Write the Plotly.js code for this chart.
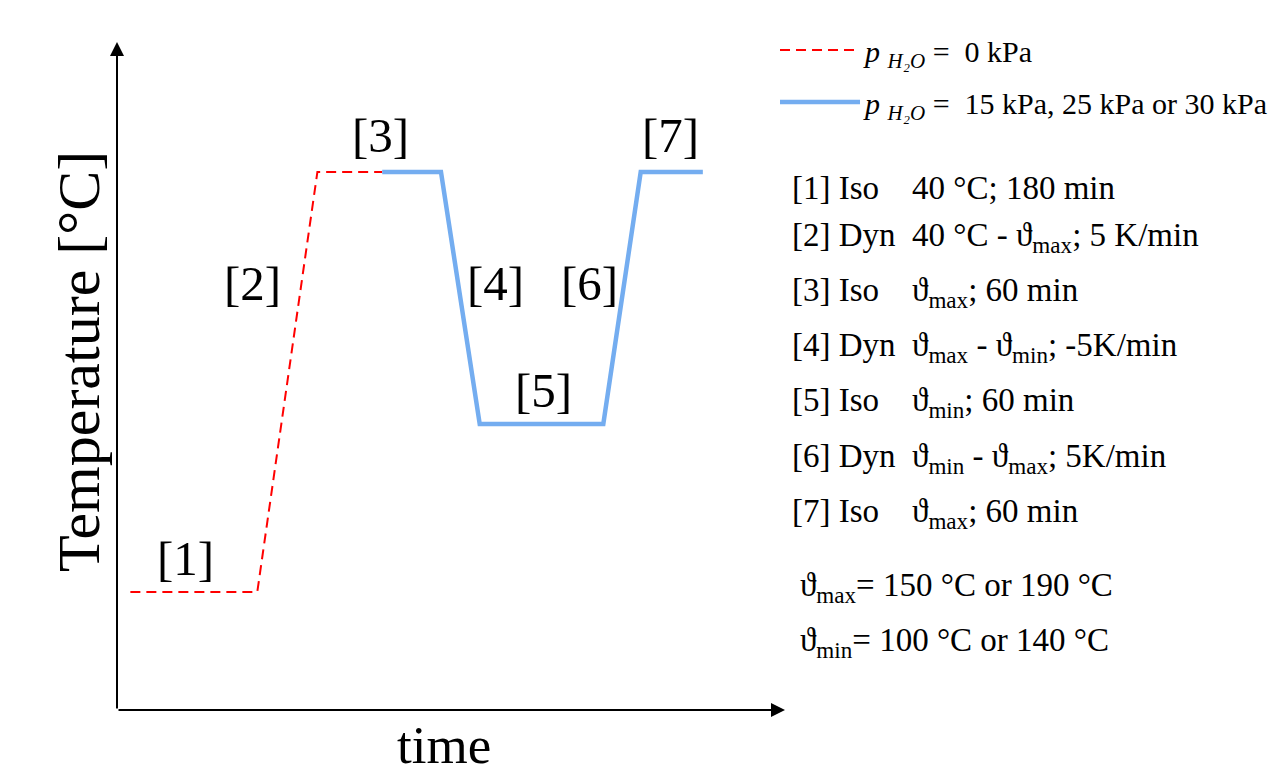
<!DOCTYPE html>
<html>
<head>
<meta charset="utf-8">
<script src="https://cdn.plot.ly/plotly-3.0.1.min.js"></script>
<style>html,body{margin:0;padding:0;background:#fff;}#chart{width:1288px;height:774px;}</style>
</head>
<body>
<div id="chart"></div>
<script>
// Schematic temperature programme (time in arbitrary schematic units, temperature in °C)
const dryTime = [2, 21, 30, 39.7];
const dryTemp = [40, 40, 190, 190];
const humidTime = [39.7, 48.5, 54.3, 72.8, 78.4, 87.7];
const humidTemp = [190, 190, 100, 100, 190, 190];
const seriesNames = [
  '<i>p</i> <sub><i>H₂O</i></sub> =  0 kPa',
  '<i>p</i> <sub><i>H₂O</i></sub> =  15 kPa, 25 kPa or 30 kPa'
];
const stageLabels = ['[1]', '[2]', '[3]', '[4]', '[5]', '[6]', '[7]'];
const stageX = [10.2, 20.3, 39.4, 56.6, 63.8, 70.8, 82.8];
const stageY = [52, 150, 203, 150, 112, 150, 203];
const descLines = [
  '[1] Iso\u00A0\u00A0\u00A0\u00A040 °C; 180 min',
  '[2] Dyn\u00A0\u00A040 °C - ϑ<sub>max</sub>; 5 K/min',
  '[3] Iso\u00A0\u00A0\u00A0\u00A0ϑ<sub>max</sub>; 60 min',
  '[4] Dyn\u00A0\u00A0ϑ<sub>max</sub> - ϑ<sub>min</sub>; -5K/min',
  '[5] Iso\u00A0\u00A0\u00A0\u00A0ϑ<sub>min</sub>; 60 min',
  '[6] Dyn\u00A0\u00A0ϑ<sub>min</sub> - ϑ<sub>max</sub>; 5K/min',
  '[7] Iso\u00A0\u00A0\u00A0\u00A0ϑ<sub>max</sub>; 60 min'
];
const limitLines = [
  'ϑ<sub>max</sub>= 150 °C or 190 °C',
  'ϑ<sub>min</sub>= 100 °C or 140 °C'
];
const xTitle = 'time';
const yTitle = 'Temperature [°C]';

const FONT = 'Liberation Serif, Times New Roman, serif';
const PL = 117, PT = 42, PW = 668, PH = 668;
const px = v => (v - PL) / PW;
const py = v => 1 - (v - PT) / PH;

const traces = [
  {x: dryTime, y: dryTemp, mode: 'lines', name: seriesNames[0], legend: 'legend',
   line: {color: '#FF0000', width: 2, dash: '10px,6px'}},
  {x: humidTime, y: humidTemp, mode: 'lines', name: seriesNames[1], legend: 'legend2',
   line: {color: '#74ADF0', width: 4.5}}
];

const annotations = [];
// axis arrows
annotations.push({xref: 'paper', yref: 'paper', x: 0, y: 1, axref: 'pixel', ayref: 'pixel',
  ax: 0, ay: PH, showarrow: true, arrowhead: 2, arrowsize: 1.4, arrowwidth: 2, arrowcolor: '#000', text: ''});
annotations.push({xref: 'paper', yref: 'paper', x: 1, y: 0, axref: 'pixel', ayref: 'pixel',
  ax: -PW, ay: 0, showarrow: true, arrowhead: 2, arrowsize: 1.4, arrowwidth: 2, arrowcolor: '#000', text: ''});
// axis titles
annotations.push({xref: 'paper', yref: 'paper', x: px(444), y: py(745), text: xTitle, showarrow: false,
  xanchor: 'center', yanchor: 'middle', font: {family: FONT, size: 53, color: '#000'}});
annotations.push({xref: 'paper', yref: 'paper', x: px(79), y: py(362), text: yTitle, showarrow: false,
  textangle: -90, xanchor: 'center', yanchor: 'middle', font: {family: FONT, size: 60, color: '#000'}});
// stage labels
stageLabels.forEach((t, i) => annotations.push({
  xref: 'x', yref: 'y', x: stageX[i], y: stageY[i], text: t, showarrow: false,
  font: {family: FONT, size: 49, color: '#000'}, xanchor: 'center', yanchor: 'middle'
}));
// description block
const descY = [188, 237, 292, 347, 402, 458, 513];
descLines.forEach((t, i) => annotations.push({
  xref: 'paper', yref: 'paper', x: px(790), y: py(descY[i]),
  text: t, showarrow: false, xanchor: 'left', yanchor: 'middle', align: 'left',
  font: {family: FONT, size: 33, color: '#000'}
}));
const limY = [587, 642];
limitLines.forEach((t, i) => annotations.push({
  xref: 'paper', yref: 'paper', x: px(798), y: py(limY[i]),
  text: t, showarrow: false, xanchor: 'left', yanchor: 'middle', align: 'left',
  font: {family: FONT, size: 33, color: '#000'}
}));

const legendBase = {xanchor: 'left', yanchor: 'middle', bgcolor: 'rgba(0,0,0,0)',
  font: {family: FONT, size: 30, color: '#000'}, itemwidth: 80};

const layout = {
  width: 1288, height: 774,
  margin: {l: PL, r: 1288 - PL - PW, t: PT, b: 774 - PT - PH, pad: 0},
  paper_bgcolor: '#fff', plot_bgcolor: '#fff',
  font: {family: FONT, color: '#000'},
  showlegend: true,
  legend: Object.assign({x: px(775), y: py(50)}, legendBase),
  legend2: Object.assign({x: px(775), y: py(102)}, legendBase),
  xaxis: {range: [0, 100], showgrid: false, zeroline: false, showline: false, showticklabels: false, ticks: ''},
  yaxis: {range: [-2.14, 236.4], showgrid: false, zeroline: false, showline: false, showticklabels: false, ticks: ''},
  annotations: annotations
};

Plotly.newPlot('chart', traces, layout, {displayModeBar: false, staticPlot: true});
</script>
</body>
</html>
